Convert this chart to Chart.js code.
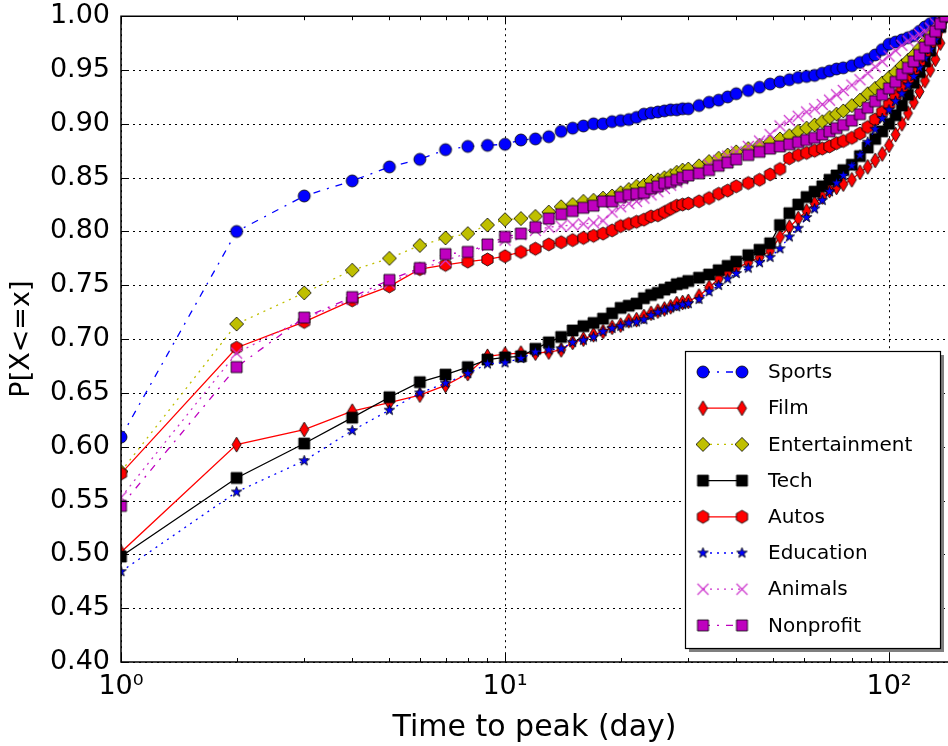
<!DOCTYPE html>
<html>
<head>
<meta charset="utf-8">
<script src="https://cdn.jsdelivr.net/npm/chart.js@4/dist/chart.umd.min.js"></script>
<style>
  html, body { margin: 0; padding: 0; background: #fff; }
</style>
</head>
<body>
<canvas id="cdf" width="948" height="746"></canvas>
<script>
// day index shared by every category
const days = [1, 2, 3, 4, 5, 6, 7, 8, 9, 10, 11, 12, 13, 14, 15, 16, 17, 18, 19, 20,
  21, 22, 23, 24, 25, 26, 27, 28, 29, 30, 32, 34, 36, 38, 40,
  43, 46, 49, 52, 55, 58, 61, 64, 67, 70, 73,
  76, 80, 84, 88, 92, 96, 100, 104, 108, 112, 116, 120, 124, 128, 132, 136, 140];

// cumulative share of videos peaking by each day
const sports = [0.609, 0.800, 0.833, 0.847, 0.860, 0.867, 0.876, 0.879, 0.880, 0.881, 0.885, 0.886, 0.888, 0.893, 0.896, 0.898, 0.900, 0.900, 0.902, 0.903,
  0.904, 0.906, 0.909, 0.910, 0.911, 0.912, 0.913, 0.913, 0.914, 0.914, 0.917, 0.920, 0.922, 0.925, 0.928,
  0.931, 0.934, 0.937, 0.939, 0.941, 0.943, 0.944, 0.945, 0.947, 0.949, 0.951,
  0.952, 0.954, 0.957, 0.960, 0.964, 0.969, 0.974, 0.976, 0.978, 0.980, 0.982, 0.986, 0.990, 0.993, 0.995, 0.998, 1.000];
const film = [0.502, 0.602, 0.616, 0.633, 0.641, 0.648, 0.657, 0.668, 0.684, 0.686, 0.687, 0.687, 0.688, 0.690, 0.697, 0.700, 0.704, 0.707, 0.711, 0.713,
  0.717, 0.718, 0.721, 0.724, 0.726, 0.728, 0.730, 0.733, 0.734, 0.735, 0.740, 0.748, 0.756, 0.762, 0.766,
  0.771, 0.776, 0.782, 0.795, 0.804, 0.812, 0.819, 0.826, 0.832, 0.838, 0.841,
  0.844, 0.848, 0.855, 0.860, 0.866, 0.872, 0.880, 0.890, 0.900, 0.910, 0.920, 0.930, 0.940, 0.950, 0.960, 0.975, 1.000];
const entertainment = [0.577, 0.714, 0.743, 0.764, 0.775, 0.787, 0.794, 0.798, 0.806, 0.811, 0.812, 0.814, 0.818, 0.823, 0.825, 0.828, 0.829, 0.831, 0.833, 0.836,
  0.839, 0.842, 0.843, 0.847, 0.848, 0.850, 0.852, 0.855, 0.857, 0.858, 0.861, 0.865, 0.868, 0.871, 0.874,
  0.877, 0.880, 0.883, 0.886, 0.889, 0.893, 0.896, 0.899, 0.902, 0.906, 0.909,
  0.912, 0.917, 0.922, 0.928, 0.933, 0.938, 0.943, 0.948, 0.954, 0.959, 0.964, 0.970, 0.976, 0.982, 0.988, 0.994, 1.000];
const tech = [0.498, 0.571, 0.603, 0.627, 0.646, 0.660, 0.667, 0.674, 0.681, 0.683, 0.684, 0.691, 0.697, 0.702, 0.708, 0.712, 0.715, 0.719, 0.724, 0.729,
  0.731, 0.733, 0.738, 0.741, 0.743, 0.746, 0.748, 0.751, 0.752, 0.754, 0.757, 0.760, 0.764, 0.768, 0.772,
  0.778, 0.783, 0.789, 0.806, 0.817, 0.825, 0.832, 0.837, 0.842, 0.848, 0.852,
  0.857, 0.862, 0.870, 0.878, 0.886, 0.893, 0.900, 0.908, 0.917, 0.927, 0.938, 0.948, 0.958, 0.968, 0.979, 0.990, 1.000];
const autos = [0.575, 0.692, 0.716, 0.736, 0.749, 0.765, 0.769, 0.772, 0.774, 0.777, 0.781, 0.784, 0.788, 0.790, 0.792, 0.794, 0.796, 0.798, 0.801, 0.805,
  0.807, 0.809, 0.811, 0.814, 0.815, 0.818, 0.821, 0.824, 0.825, 0.826, 0.828, 0.831, 0.835, 0.838, 0.842,
  0.845, 0.848, 0.853, 0.858, 0.868, 0.871, 0.873, 0.875, 0.877, 0.879, 0.882,
  0.884, 0.887, 0.891, 0.897, 0.904, 0.911, 0.918, 0.926, 0.934, 0.942, 0.950, 0.958, 0.966, 0.975, 0.983, 0.992, 1.000];
const education = [0.484, 0.558, 0.587, 0.615, 0.634, 0.650, 0.659, 0.668, 0.677, 0.678, 0.682, 0.688, 0.690, 0.691, 0.697, 0.699, 0.702, 0.707, 0.710, 0.712,
  0.715, 0.716, 0.718, 0.722, 0.725, 0.727, 0.729, 0.730, 0.732, 0.733, 0.737, 0.744, 0.750, 0.756, 0.761,
  0.766, 0.771, 0.776, 0.784, 0.795, 0.803, 0.813, 0.821, 0.829, 0.837, 0.845,
  0.852, 0.861, 0.871, 0.883, 0.895, 0.905, 0.913, 0.921, 0.928, 0.936, 0.944, 0.952, 0.961, 0.969, 0.978, 0.989, 1.000];
const animals = [0.553, 0.687, 0.719, 0.737, 0.752, 0.765, 0.773, 0.780, 0.787, 0.792, 0.797, 0.801, 0.804, 0.805, 0.806, 0.807, 0.808, 0.810, 0.818, 0.823,
  0.826, 0.828, 0.831, 0.834, 0.837, 0.840, 0.843, 0.846, 0.849, 0.852, 0.856, 0.862, 0.866, 0.870, 0.874,
  0.879, 0.884, 0.890, 0.898, 0.903, 0.907, 0.911, 0.914, 0.918, 0.922, 0.927,
  0.931, 0.936, 0.941, 0.947, 0.953, 0.958, 0.963, 0.968, 0.973, 0.977, 0.980, 0.983, 0.986, 0.989, 0.993, 0.996, 1.000];
const nonprofit = [0.545, 0.674, 0.720, 0.739, 0.755, 0.766, 0.779, 0.781, 0.788, 0.795, 0.798, 0.804, 0.812, 0.816, 0.819, 0.822, 0.824, 0.828, 0.828, 0.832,
  0.834, 0.835, 0.836, 0.840, 0.842, 0.845, 0.846, 0.848, 0.850, 0.852, 0.854, 0.857, 0.861, 0.864, 0.867,
  0.871, 0.874, 0.877, 0.879, 0.881, 0.883, 0.885, 0.887, 0.890, 0.893, 0.896,
  0.899, 0.903, 0.909, 0.915, 0.921, 0.927, 0.933, 0.939, 0.946, 0.952, 0.958, 0.964, 0.971, 0.978, 0.986, 0.993, 1.000];

const yTicks = [0.40, 0.45, 0.50, 0.55, 0.60, 0.65, 0.70, 0.75, 0.80, 0.85, 0.90, 0.95, 1.00];
const xMajor = [1, 10, 100];
const xMinor = [2, 3, 4, 5, 6, 7, 8, 9, 20, 30, 40, 50, 60, 70, 80, 90];
const X_MAX = 142.4;

const FONT = 'DejaVu Sans';
const DOT = [2, 5];
const DASHDOT = [7, 7, 2, 7];

// small bitmaps used as point markers (and reused by the legend)
function marker(shape, fill, size) {
  const c = document.createElement('canvas');
  c.width = c.height = Math.ceil(size + 4);
  const g = c.getContext('2d');
  const m = c.width / 2, r = size / 2;
  g.fillStyle = fill;
  g.strokeStyle = '#000';
  g.lineWidth = 0.8;
  g.beginPath();
  if (shape === 'circle') {
    g.arc(m, m, r, 0, Math.PI * 2);
  } else if (shape === 'square') {
    g.rect(m - r, m - r, size, size);
  } else if (shape === 'diamond') {
    g.moveTo(m, m - r); g.lineTo(m + r, m); g.lineTo(m, m + r); g.lineTo(m - r, m); g.closePath();
  } else if (shape === 'thin') {
    g.moveTo(m, m - r); g.lineTo(m + r * 0.6, m); g.lineTo(m, m + r); g.lineTo(m - r * 0.6, m); g.closePath();
  } else if (shape === 'hexagon') {
    for (let i = 0; i < 6; i++) {
      const a = -Math.PI / 2 + i * Math.PI / 3;
      g.lineTo(m + r * Math.cos(a), m + r * Math.sin(a));
    }
    g.closePath();
  } else if (shape === 'star') {
    for (let i = 0; i < 10; i++) {
      const a = -Math.PI / 2 + i * Math.PI / 5;
      const rr = i % 2 ? r * 0.4 : r;
      g.lineTo(m + rr * Math.cos(a), m + rr * Math.sin(a));
    }
    g.closePath();
  } else if (shape === 'x') {
    g.moveTo(m - r, m - r); g.lineTo(m + r, m + r);
    g.moveTo(m + r, m - r); g.lineTo(m - r, m + r);
    g.strokeStyle = fill;
    g.lineWidth = 1.2;
    g.stroke();
    return c;
  }
  g.fill();
  g.stroke();
  return c;
}

const series = [
  { label: 'Sports', data: sports, color: '#0000ff', dash: DASHDOT, mk: marker('circle', '#0000ff', 12) },
  { label: 'Film', data: film, color: '#ff0000', dash: [], mk: marker('thin', '#ff0000', 15) },
  { label: 'Entertainment', data: entertainment, color: '#bfbf00', dash: DOT, mk: marker('diamond', '#bfbf00', 14) },
  { label: 'Tech', data: tech, color: '#000000', dash: [], mk: marker('square', '#000000', 11) },
  { label: 'Autos', data: autos, color: '#ff0000', dash: [], mk: marker('hexagon', '#ff0000', 13) },
  { label: 'Education', data: education, color: '#0000ff', dash: DOT, mk: marker('star', '#0000ff', 11) },
  { label: 'Animals', data: animals, color: '#cc33cc', dash: DOT, mk: marker('x', '#cc33cc', 11) },
  { label: 'Nonprofit', data: nonprofit, color: '#bf00bf', dash: DASHDOT, mk: marker('square', '#bf00bf', 11) }
];

const datasets = series.map((s, i) => ({
  label: s.label,
  data: days.map((d, k) => ({ x: d, y: s.data[k] })),
  borderColor: s.color,
  backgroundColor: s.color,
  borderWidth: 1.3,
  borderDash: s.dash,
  pointStyle: s.mk,
  pointRadius: 6,
  tension: 0,
  clip: 0,
  order: series.length - i   // later categories end up on top
}));

// dotted grid, inward ticks and the axes frame
const frame = {
  id: 'frame',
  beforeDatasetsDraw(chart) {
    const { ctx, chartArea: a, scales: { x, y } } = chart;
    ctx.save();
    ctx.strokeStyle = '#000';
    ctx.lineWidth = 1;
    ctx.setLineDash([2, 4]);
    yTicks.forEach(v => {
      const py = Math.round(y.getPixelForValue(v)) + 0.5;
      ctx.beginPath(); ctx.moveTo(a.left, py); ctx.lineTo(a.right, py); ctx.stroke();
    });
    xMajor.forEach(v => {
      const px = Math.round(x.getPixelForValue(v)) + 0.5;
      ctx.beginPath(); ctx.moveTo(px, a.top); ctx.lineTo(px, a.bottom); ctx.stroke();
    });
    ctx.restore();
  },
  afterDatasetsDraw(chart) {
    const { ctx, chartArea: a, scales: { x, y } } = chart;
    ctx.save();
    ctx.strokeStyle = '#000';
    ctx.lineWidth = 1;
    ctx.beginPath();
    yTicks.forEach(v => {
      const py = Math.round(y.getPixelForValue(v)) + 0.5;
      ctx.moveTo(a.left, py); ctx.lineTo(a.left + 8, py);
    });
    xMajor.forEach(v => {
      const px = Math.round(x.getPixelForValue(v)) + 0.5;
      ctx.moveTo(px, a.bottom); ctx.lineTo(px, a.bottom - 8);
      ctx.moveTo(px, a.top); ctx.lineTo(px, a.top + 8);
    });
    xMinor.forEach(v => {
      const px = Math.round(x.getPixelForValue(v)) + 0.5;
      ctx.moveTo(px, a.bottom); ctx.lineTo(px, a.bottom - 4);
      ctx.moveTo(px, a.top); ctx.lineTo(px, a.top + 4);
    });
    ctx.stroke();
    ctx.lineWidth = 1.5;
    ctx.beginPath();
    ctx.moveTo(a.right, a.top); ctx.lineTo(a.left, a.top);
    ctx.lineTo(a.left, a.bottom); ctx.lineTo(a.right, a.bottom);
    ctx.stroke();
    ctx.restore();
  }
};

// boxed legend with a drop shadow, each row a line between two markers
const boxLegend = {
  id: 'boxLegend',
  afterDraw(chart) {
    const ctx = chart.ctx;
    const bx = 685, by = 351, bw = 255, bh = 297, rowH = 36.2;
    ctx.save();
    ctx.fillStyle = '#7f7f7f';
    ctx.fillRect(bx + 4, by + 4, bw, bh);
    ctx.fillStyle = '#fff';
    ctx.fillRect(bx, by, bw, bh);
    ctx.strokeStyle = '#000';
    ctx.lineWidth = 1.2;
    ctx.strokeRect(bx + 0.5, by + 0.5, bw, bh);
    ctx.font = '20px "' + FONT + '"';
    ctx.textBaseline = 'middle';
    series.forEach((s, i) => {
      const cy = by + 21 + i * rowH;
      const x0 = 703, x1 = 742;
      ctx.strokeStyle = s.color;
      ctx.lineWidth = 1.3;
      ctx.setLineDash(s.dash);
      ctx.beginPath(); ctx.moveTo(x0, cy); ctx.lineTo(x1, cy); ctx.stroke();
      ctx.setLineDash([]);
      ctx.drawImage(s.mk, x0 - s.mk.width / 2, cy - s.mk.height / 2);
      ctx.drawImage(s.mk, x1 - s.mk.width / 2, cy - s.mk.height / 2);
      ctx.fillStyle = '#000';
      ctx.fillText(s.label, 768, cy + 1);
    });
    ctx.restore();
  }
};

const sup = ['\u2070', '\u00b9', '\u00b2'];

// grid lines are painted by the frame plugin; the library grid only supplies
// an invisible tick length that spaces the labels off the axes
const hiddenGrid = tl => ({ color: 'rgba(0,0,0,0)', drawTicks: true, tickLength: tl, drawOnChartArea: false });

new Chart(document.getElementById('cdf').getContext('2d'), {
  type: 'line',
  data: { datasets },
  options: {
    responsive: false,
    animation: false,
    events: [],
    // markers are clipped at the frame, so no room is reserved for them
    layout: { autoPadding: false, padding: { top: 16, right: 0, bottom: 0, left: 0 } },
    plugins: { legend: { display: false }, tooltip: { enabled: false } },
    scales: {
      x: {
        type: 'logarithmic',
        bounds: 'data',
        min: 1,
        max: X_MAX,
        grid: hiddenGrid(9),
        border: { display: false },
        ticks: {
          autoSkip: false,
          maxRotation: 0,
          padding: 0,
          color: '#000',
          font: { family: FONT, size: 27 },
          callback: v => {
            const e = Math.log10(v);
            return Math.abs(e - Math.round(e)) < 1e-9 ? '10' + sup[Math.round(e)] : '';
          }
        },
        title: {
          display: true,
          text: 'Time to peak (day)',
          color: '#000',
          font: { family: FONT, size: 30 },
          padding: 0
        },
        afterBuildTicks: s => { s.ticks = s.ticks.filter(t => t.value <= X_MAX); },
        afterFit: s => { s.height = 84; s.paddingRight = 0; }
      },
      y: {
        min: 0.4,
        max: 1.0,
        grid: hiddenGrid(11),
        border: { display: false },
        ticks: {
          stepSize: 0.05,
          padding: 0,
          color: '#000',
          font: { family: FONT, size: 27 },
          callback: v => v.toFixed(2)
        },
        title: {
          display: true,
          text: 'P[X<=x]',
          color: '#000',
          font: { family: FONT, size: 27 },
          padding: { top: 6, bottom: 0 }
        },
        afterFit: s => { s.width = 121; }
      }
    }
  },
  plugins: [frame, boxLegend]
});
</script>
</body>
</html>
